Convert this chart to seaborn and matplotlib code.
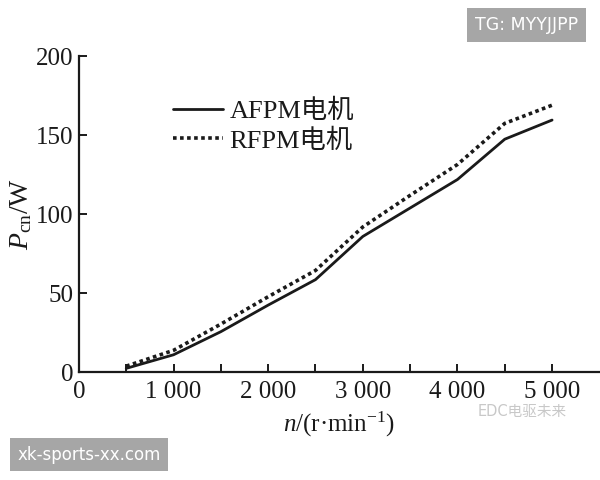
import matplotlib
matplotlib.use("Agg")
import matplotlib.pyplot as plt
import seaborn as sns
import pandas as pd

# ---- data ----
speed = [500, 1000, 1500, 2000, 2500, 3000, 3500, 4000, 4500, 5000]
afpm = [2.6, 11.2, 25.8, 42.6, 58.7, 86.0, 104.0, 122.0, 147.5, 159.6]
rfpm = [4.0, 14.0, 30.6, 47.9, 64.5, 92.0, 112.0, 131.5, 157.5, 169.0]
series_names = ["AFPM电机", "RFPM电机"]
xtick_vals = [0, 500, 1000, 1500, 2000, 2500, 3000, 3500, 4000, 4500, 5000]
xtick_labels = ["0", "", "1 000", "", "2 000", "", "3 000", "", "4 000", "", "5 000"]
ytick_vals = [0, 50, 100, 150, 200]

sns.set_style("ticks")
plt.rcParams["font.family"] = ["Liberation Serif", "Noto Sans CJK SC"]
plt.rcParams["mathtext.fontset"] = "custom"
plt.rcParams["mathtext.rm"] = "Liberation Serif"
plt.rcParams["mathtext.it"] = "Liberation Serif:italic"

df = pd.DataFrame({
    "n": speed * 2,
    "P": afpm + rfpm,
    "motor": [series_names[0]] * len(speed) + [series_names[1]] * len(speed),
})

fig = plt.figure(figsize=(6, 4.8), dpi=100)
ax = fig.add_axes([0.1315, 0.224, 0.8675, 0.659])

sns.lineplot(data=df[df.motor == series_names[0]], x="n", y="P", ax=ax,
             color="#1a1a1a", lw=2.0, label=series_names[0])
sns.lineplot(data=df[df.motor == series_names[1]], x="n", y="P", ax=ax,
             color="#1a1a1a", lw=2.6, label=series_names[1])
ax.lines[1].set_linestyle((0, (1, 0.95)))

ax.set_xlim(0, 5500)
ax.set_ylim(0, 200)
ax.set_xticks(xtick_vals)
ax.set_xticklabels(xtick_labels)
ax.set_yticks(ytick_vals)
ax.tick_params(direction="in", length=6, width=1.4, labelsize=18, pad=4, colors="#1a1a1a")
ax.tick_params(axis="x", pad=6)
for s in ["top", "right"]:
    ax.spines[s].set_visible(False)
for s in ["left", "bottom"]:
    ax.spines[s].set_linewidth(1.6)
    ax.spines[s].set_color("#1a1a1a")

ax.set_xlabel(r"$n$/(r·min$^{\mathregular{-1}}$)", fontsize=18, labelpad=5, color="#1a1a1a")
ax.set_ylabel(r"$P_{\mathregular{cn}}$/W", fontsize=20, labelpad=1, color="#1a1a1a")

leg = ax.legend(loc="upper left", bbox_to_anchor=(0.15, 0.915), frameon=False,
                fontsize=19, handlelength=1.9, handletextpad=0.25, labelspacing=0.2,
                borderpad=0.1)
for t in leg.get_texts():
    t.set_color("#1a1a1a")

# watermarks
fig.text(0.8775, 0.948, "TG: MYYJJPP", fontsize=12.5, color="white", ha="center", va="center",
         family=["DejaVu Sans"],
         bbox=dict(boxstyle="square,pad=0.45", fc="#a6a6a6", ec="none"))
fig.text(0.148, 0.053, "xk-sports-xx.com", fontsize=12, color="white", ha="center", va="center",
         family=["DejaVu Sans"],
         bbox=dict(boxstyle="square,pad=0.45", fc="#a6a6a6", ec="none"))
fig.text(0.87, 0.143, "EDC电驱未来", fontsize=10.5, color="#c8c8c8", ha="center", va="center",
         family=["DejaVu Sans", "Noto Sans CJK SC"])

fig.savefig("out.png", dpi=100)
